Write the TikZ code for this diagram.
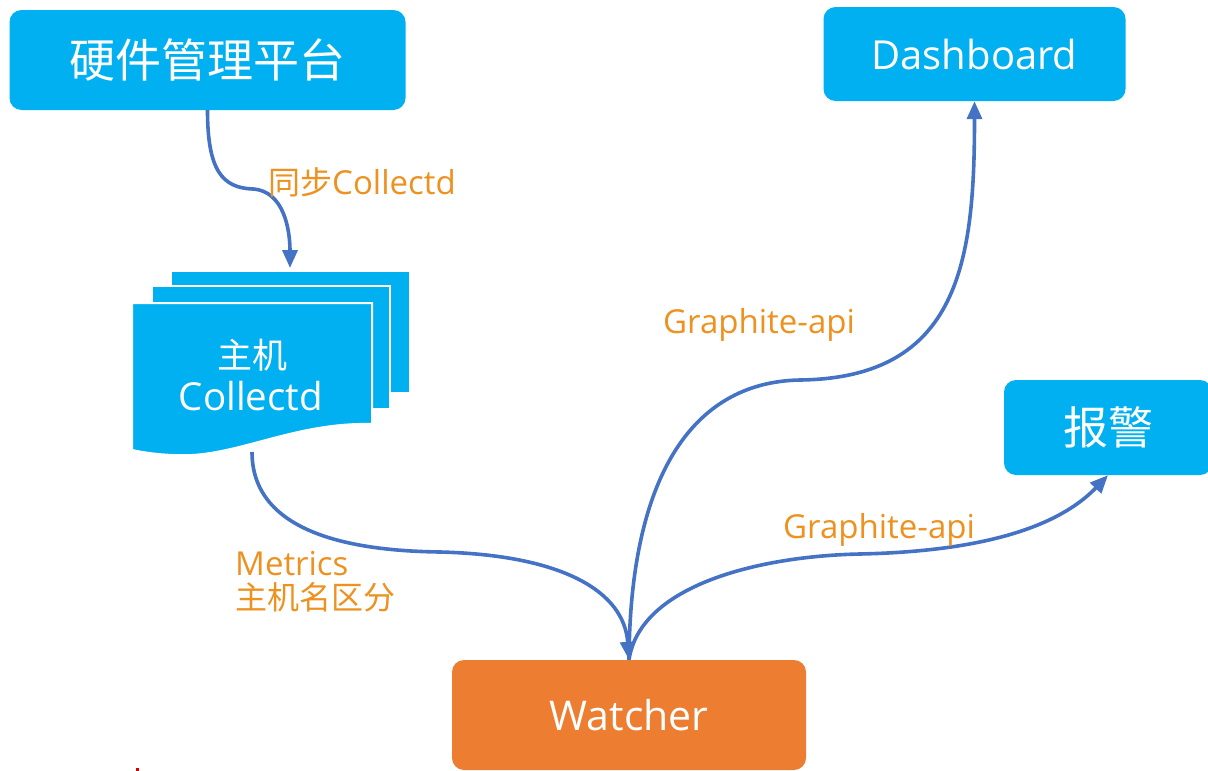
\documentclass[tikz,border=0pt]{standalone}
\usepackage{fontspec}
\setmainfont{Open Sans}
\newfontfamily\cjk{Noto Sans CJK SC}
\usetikzlibrary{arrows.meta}
\definecolor{cyanbox}{RGB}{0,176,240}
\definecolor{orangebox}{RGB}{237,125,49}
\definecolor{arrowblue}{RGB}{68,114,196}
\definecolor{labelorange}{RGB}{237,145,33}
\tikzset{
  box/.style={fill=cyanbox, rounded corners=12pt, inner sep=0pt, text=white},
  sheet/.style={fill=cyanbox, draw=white, line width=2pt},
  conn/.style={draw=arrowblue, line width=3.6pt, -{Triangle[length=18pt,width=15pt]}},
  lbl/.style={text=labelorange, font=\fontsize{33}{38}\selectfont, inner sep=0pt, anchor=west, align=left},
}
\begin{document}
\begin{tikzpicture}[x=1pt,y=-1pt]
\useasboundingbox (0,0) rectangle (1208,771);
% boxes
\node[box, minimum width=396pt, minimum height=100pt] (hw) at (207.5,60) {\fontsize{46}{55}\selectfont\cjk 硬件管理平台};
\node[box, minimum width=302pt, minimum height=94pt] (dash) at (974.5,54) {\fontsize{40}{48}\selectfont Dashboard};
\begin{scope}
\clip (0,0) rectangle (1208,771);
\node[box, minimum width=208pt, minimum height=95pt] (alarm) at (1108,427.5) {\fontsize{45}{54}\selectfont\cjk 报警};
\node[box, fill=orangebox, minimum width=354pt, minimum height=110pt] (watcher) at (629,715) {\fontsize{41}{49}\selectfont Watcher};
\end{scope}
% multi-document
\path[sheet] (171,271) rectangle (410,393);
\path[sheet] (152,286) rectangle (390,409);
\path[sheet] (132,303) -- (372,303) -- (372,424)
  .. controls (300,422) and (245,452) .. (192,455)
  .. controls (162,456) and (142,452) .. (132,450) -- cycle;
\node[inner sep=0pt, text=white] (doc1) at (252,355) {\fontsize{35}{42}\selectfont\cjk 主机};
\node[inner sep=0pt, text=white] (doc2) at (251,396) {\fontsize{38.5}{46}\selectfont Collectd};
\coordinate (docout) at (252,452);
\coordinate (docin) at (290,268);
% connectors
\draw[conn] (hw.south) .. controls (207.5,170) and (222,188) .. (253,189)
  .. controls (284,191) and (290,230) .. (docin);
\draw[conn] (docout) .. controls (252,540) and (370,551) .. (440,552)
  .. controls (560,555) and (624,590) .. (watcher.north);
\draw[conn] (watcher.north) .. controls (630,480) and (690,382) .. (800,380)
  .. controls (960,378) and (974.5,260) .. (dash.south);
\draw[conn] (watcher.north) .. controls (640,585) and (760,556) .. (860,554)
  .. controls (1000,551) and (1065,520) .. (alarm.south);
% labels
\node[lbl] (l1) at (268,182) {{\cjk\fontsize{32}{38}\selectfont 同步}Collectd};
\node[lbl] (l2) at (663,325) {Graphite-api};
\node[lbl] (l3) at (783,530) {Graphite-api};
\node[lbl] (l4) at (235,582) {Metrics\\[-4pt]{\cjk\fontsize{32}{38}\selectfont 主机名区分}};
% small red mark
\fill[red!85!black] (136,768) rectangle (139,771);
\end{tikzpicture}
\end{document}
